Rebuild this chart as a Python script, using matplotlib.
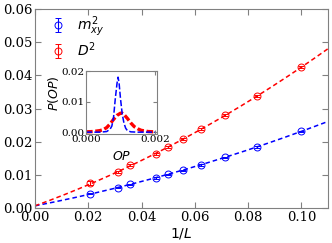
import numpy as np
import matplotlib
matplotlib.use("Agg")
import matplotlib.pyplot as plt

# main panel: squared order parameters vs 1/L
inv_L = [1/48, 1/32, 1/28, 1/22, 1/20, 1/18, 1/16, 1/14, 1/12, 1/10]
m2_xy = [0.00444, 0.00624, 0.00726, 0.00915, 0.0103, 0.0115, 0.0131, 0.0154, 0.0185, 0.0232]
m2_err = [0.0002, 0.0002, 0.0002, 0.0002, 0.0002, 0.0002, 0.0002, 0.0002, 0.0002, 0.0002]
d2 = [0.00765, 0.0110, 0.0130, 0.0165, 0.0185, 0.0208, 0.0238, 0.0280, 0.0338, 0.0425]
d2_err = [0.0007, 0.0003, 0.0003, 0.0003, 0.0003, 0.0003, 0.0003, 0.0003, 0.0003, 0.0003]

# quadratic fits a + b x + c x^2
fit_m2 = [0.0008, 0.156, 0.68]
fit_d2 = [0.0008, 0.291, 1.26]

# inset: histograms of the order parameter
op_blue = [0.0, 0.0002, 0.0004, 0.0006, 0.0007, 0.00075, 0.0008, 0.00085, 0.0009, 0.00093,
           0.00096, 0.001, 0.00105, 0.0011, 0.00115, 0.0012, 0.0013, 0.0015, 0.0018, 0.002]
p_blue = [0.0, 0.0, 0.0, 0.0002, 0.001, 0.002, 0.005, 0.011, 0.016, 0.018,
          0.016, 0.011, 0.006, 0.003, 0.0013, 0.0005, 0.0001, 0.0, 0.0, 0.0]
op_red = [0.0, 0.0002, 0.0004, 0.0005, 0.0006, 0.0007, 0.0008, 0.0009, 0.001, 0.00105,
          0.0011, 0.0012, 0.0013, 0.0014, 0.0015, 0.0016, 0.0018, 0.002]
p_red = [0.0001, 0.0002, 0.0005, 0.0008, 0.0015, 0.0027, 0.0042, 0.0055, 0.0062, 0.0062,
         0.0058, 0.0045, 0.003, 0.0018, 0.0011, 0.0006, 0.0002, 0.0001]

serif = "DejaVu Serif"
fig = plt.figure(figsize=(3.32, 2.43), dpi=100)
ax = fig.add_axes([0.1054, 0.142, 0.8826, 0.821])

xx = np.linspace(0, 0.11, 200)
ax.plot(xx, fit_m2[0] + fit_m2[1]*xx + fit_m2[2]*xx**2, "--", color="blue", lw=1.1, dashes=(3, 2))
ax.plot(xx, fit_d2[0] + fit_d2[1]*xx + fit_d2[2]*xx**2, "--", color="red", lw=1.1, dashes=(3, 2))
ax.errorbar(inv_L, m2_xy, yerr=m2_err, fmt="o", color="blue", mfc="none", ms=5,
            mew=0.7, elinewidth=0.8, capsize=2.5, label=r"$m^2_{xy}$")
ax.errorbar(inv_L, d2, yerr=d2_err, fmt="o", color="red", mfc="none", ms=5,
            mew=0.7, elinewidth=0.8, capsize=2.5, label=r"$D^2$")

ax.set_xlim(0, 0.11)
ax.set_ylim(0, 0.06)
ax.set_xticks([0, 0.02, 0.04, 0.06, 0.08, 0.10])
ax.set_yticks([0, 0.01, 0.02, 0.03, 0.04, 0.05, 0.06])
ax.set_xticklabels(["0.00", "0.02", "0.04", "0.06", "0.08", "0.10"], family=serif, fontsize=9.5)
ax.set_yticklabels(["0.00", "0.01", "0.02", "0.03", "0.04", "0.05", "0.06"], family=serif, fontsize=9.5)
ax.tick_params(direction="in", top=True, right=True, length=4, color="gray", pad=2)
ax.set_xlabel(r"1/$L$", fontsize=10, labelpad=1)
for s in ax.spines.values():
    s.set_color("gray")
ax.legend(loc="upper left", frameon=False, fontsize=10, handlelength=1.6, handletextpad=0.6,
          borderaxespad=0.0, bbox_to_anchor=(0.0215, 1.0), labelspacing=0.1)

# inset
ins = fig.add_axes([0.259, 0.4486, 0.213, 0.259])
ins.plot(op_red, p_red, "--", color="red", lw=2.4, dashes=(2, 0.8))
ins.plot(op_blue, p_blue, "--", color="blue", lw=1.1, dashes=(4, 1.5))
ins.set_xlim(0, 0.00205)
ins.set_ylim(-0.0006, 0.02)
ins.set_xticks([0, 0.002])
ins.set_yticks([0, 0.01, 0.02])
ins.set_xticklabels(["0.000", "0.002"], family=serif, fontsize=7.5)
ins.set_yticklabels(["0.00", "0.01", "0.02"], family=serif, fontsize=7.5)
ins.tick_params(direction="in", top=True, right=True, length=3, color="gray", pad=1)
ins.set_xlabel(r"$OP$", fontsize=9)
ins.set_ylabel(r"$P(OP)$", fontsize=9)
ins.xaxis.set_label_coords(0.5, -0.25)
ins.yaxis.set_label_coords(-0.36, 0.65)
for s in ins.spines.values():
    s.set_color("gray")

fig.savefig("out.png", dpi=100)
